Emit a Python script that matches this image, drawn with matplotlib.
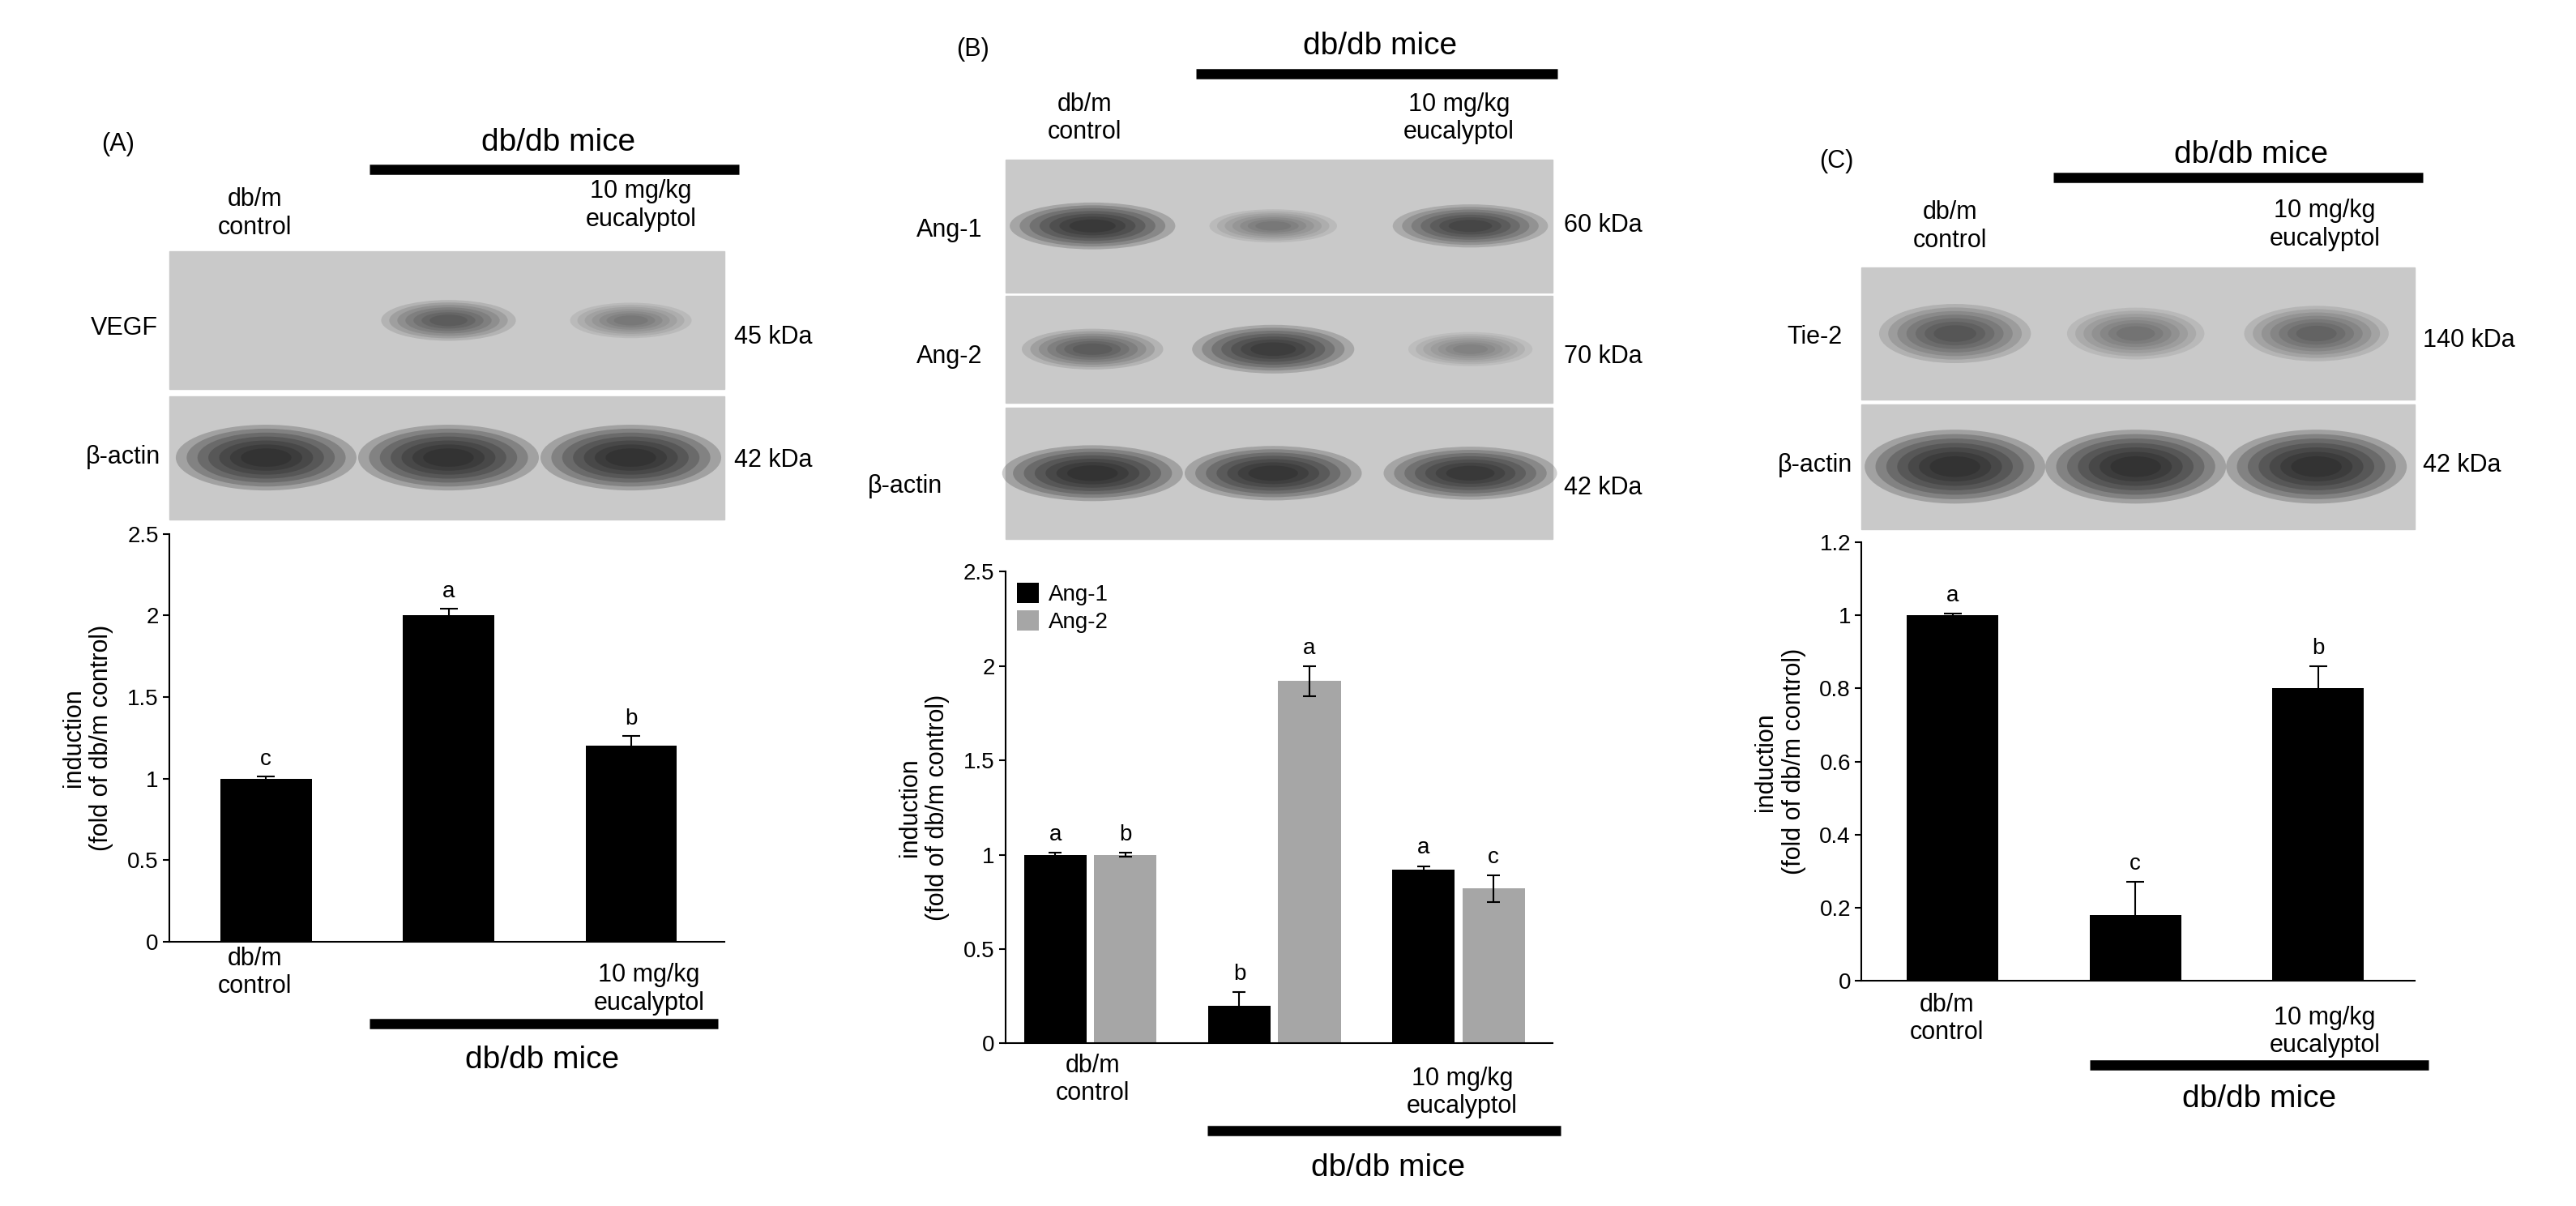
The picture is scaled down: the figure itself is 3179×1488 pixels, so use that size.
import matplotlib
matplotlib.use("Agg")
import matplotlib.pyplot as plt
from matplotlib.patches import Rectangle, Ellipse

plt.rcParams['font.family'] = ['Liberation Sans', 'DejaVu Sans']

# ---- data ----
groups = ["db/m\ncontrol", "", "10 mg/kg\neucalyptol"]
vegf_vals = [1.0, 2.0, 1.2]
vegf_err = [0.01, 0.04, 0.06]
vegf_letters = ["c", "a", "b"]

ang1_vals = [1.0, 0.2, 0.92]
ang1_err = [0.01, 0.07, 0.02]
ang1_letters = ["a", "b", "a"]
ang2_vals = [1.0, 1.92, 0.82]
ang2_err = [0.01, 0.08, 0.07]
ang2_letters = ["b", "a", "c"]

tie2_vals = [1.0, 0.18, 0.80]
tie2_err = [0.005, 0.09, 0.06]
tie2_letters = ["a", "c", "b"]

# band intensities per lane (0..1)
band_A = {"VEGF": [0.0, 0.55, 0.35], "actin": [1.0, 1.0, 1.0]}
band_B = {"Ang-1": [0.9, 0.35, 0.75], "Ang-2": [0.55, 0.85, 0.3], "actin": [1.0, 0.95, 0.9]}
band_C = {"Tie-2": [0.6, 0.4, 0.5], "actin": [1.0, 1.0, 1.0]}

W, H = 1568, 734
fig = plt.figure(figsize=(31.79, 14.88), dpi=100)
ov = fig.add_axes([0, 0, 1, 1])
ov.set_xlim(0, W); ov.set_ylim(H, 0); ov.axis('off')

FS = 22
BIG = 28

def txt(x, y, s, fs=FS, ha='center', va='center'):
    ov.text(x, y, s, fontsize=fs, ha=ha, va=va)

def hbar(x0, x1, y):
    ov.plot([x0, x1], [y, y], color='black', lw=9, solid_capstyle='butt')

def blot(x0, x1, y0, y1, lanes, ints, bw, bh, bg='#c9c9c9'):
    ov.add_patch(Rectangle((x0, y0), x1 - x0, y1 - y0, color=bg, zorder=1))
    yc = (y0 + y1) / 2
    for lx, it in zip(lanes, ints):
        if it <= 0:
            continue
        for i in range(7):
            s = 1 - i * 0.12
            ov.add_patch(Ellipse((lx, yc), bw * s * (0.6 + 0.4 * it), bh * s * (0.5 + 0.5 * it),
                                 color='#151515', alpha=0.22 * it, lw=0, zorder=2))

def barax(x0, x1, ytop, ybot, ymax, step, xl):
    ax = fig.add_axes([x0 / W, 1 - ybot / H, (x1 - x0) / W, (ybot - ytop) / H])
    ax.patch.set_alpha(0)
    ax.set_ylim(0, ymax); ax.set_xlim(*xl)
    ax.spines['top'].set_visible(False); ax.spines['right'].set_visible(False)
    ax.spines['left'].set_linewidth(1.5); ax.spines['bottom'].set_linewidth(1.5)
    ax.set_xticks([])
    import numpy as np
    ticks = np.round(np.arange(0, ymax + 1e-9, step), 2)
    ax.set_yticks(ticks)
    ax.set_yticklabels([("%g" % t) for t in ticks], fontsize=20)
    ax.tick_params(axis='y', length=6, width=1.5)
    return ax

ylab = "induction\n(fold of db/m control)"
x = [0, 1, 2]

# ---------------- Panel A ----------------
txt(72, 88, "(A)")
hbar(225, 450, 103); txt(340, 87, "db/db mice", BIG)
txt(155, 130, "db/m\ncontrol"); txt(390, 125, "10 mg/kg\neucalyptol")
lanesA = [162, 273, 384]
blot(103, 441, 153, 237, lanesA, band_A["VEGF"], 100, 32)
blot(103, 441, 241, 316, lanesA, band_A["actin"], 110, 40)
txt(55, 200, "VEGF", ha='left'); txt(52, 278, "β-actin", ha='left')
txt(447, 205, "45 kDa", ha='left'); txt(447, 280, "42 kDa", ha='left')
axA = barax(103, 441, 325, 573, 2.5, 0.5, (-0.53, 2.51))
axA.bar(x, vegf_vals, 0.5, yerr=vegf_err, color='black', capsize=8,
        error_kw=dict(lw=1.5, capthick=1.5))
for xi, v, e, l in zip(x, vegf_vals, vegf_err, vegf_letters):
    axA.text(xi, v + e + 0.04, l, ha='center', va='bottom', fontsize=20)
axA.set_ylabel(ylab, fontsize=FS, labelpad=12)
txt(155, 592, "db/m\ncontrol"); txt(395, 602, "10 mg/kg\neucalyptol")
hbar(225, 437, 623); txt(330, 645, "db/db mice", BIG)

# ---------------- Panel B ----------------
txt(592, 30, "(B)")
hbar(728, 948, 45); txt(840, 28, "db/db mice", BIG)
txt(660, 72, "db/m\ncontrol"); txt(888, 72, "10 mg/kg\neucalyptol")
lanesB = [665, 775, 895]
blot(612, 945, 97, 178, lanesB, band_B["Ang-1"], 105, 30)
blot(612, 945, 180, 245, lanesB, band_B["Ang-2"], 105, 32)
blot(612, 945, 248, 328, lanesB, band_B["actin"], 110, 34)
txt(558, 140, "Ang-1", ha='left'); txt(558, 217, "Ang-2", ha='left'); txt(528, 296, "β-actin", ha='left')
txt(952, 137, "60 kDa", ha='left'); txt(952, 217, "70 kDa", ha='left'); txt(952, 297, "42 kDa", ha='left')
axB = barax(612, 945, 348, 635, 2.5, 0.5, (-0.46, 2.51))
off = 0.19; bw = 0.34
b1 = axB.bar([i - off for i in x], ang1_vals, bw, yerr=ang1_err, color='black', capsize=6,
             error_kw=dict(lw=1.5, capthick=1.5), label='Ang-1')
b2 = axB.bar([i + off for i in x], ang2_vals, bw, yerr=ang2_err, color='#a6a6a6', capsize=6,
             error_kw=dict(lw=1.5, capthick=1.5), label='Ang-2')
for xi, v, e, l in zip(x, ang1_vals, ang1_err, ang1_letters):
    axB.text(xi - off, v + e + 0.04, l, ha='center', va='bottom', fontsize=20)
for xi, v, e, l in zip(x, ang2_vals, ang2_err, ang2_letters):
    axB.text(xi + off, v + e + 0.04, l, ha='center', va='bottom', fontsize=20)
axB.legend(loc='upper left', fontsize=20, frameon=False, handlelength=1.0, handleheight=1.0,
           borderaxespad=0.1, labelspacing=0.2, handletextpad=0.4)
axB.set_ylabel(ylab, fontsize=FS, labelpad=12)
txt(665, 657, "db/m\ncontrol"); txt(890, 665, "10 mg/kg\neucalyptol")
hbar(735, 950, 688); txt(845, 711, "db/db mice", BIG)

# ---------------- Panel C ----------------
txt(1118, 98, "(C)")
hbar(1250, 1475, 108); txt(1370, 94, "db/db mice", BIG)
txt(1187, 138, "db/m\ncontrol"); txt(1415, 137, "10 mg/kg\neucalyptol")
lanesC = [1190, 1300, 1410]
blot(1133, 1470, 163, 243, lanesC, band_C["Tie-2"], 110, 45)
blot(1133, 1470, 246, 322, lanesC, band_C["actin"], 110, 45)
txt(1088, 205, "Tie-2", ha='left'); txt(1082, 283, "β-actin", ha='left')
txt(1475, 207, "140 kDa", ha='left'); txt(1475, 283, "42 kDa", ha='left')
axC = barax(1133, 1470, 330, 597, 1.2, 0.2, (-0.5, 2.53))
axC.bar(x, tie2_vals, 0.5, yerr=tie2_err, color='black', capsize=8,
        error_kw=dict(lw=1.5, capthick=1.5))
for xi, v, e, l in zip(x, tie2_vals, tie2_err, tie2_letters):
    axC.text(xi, v + e + 0.02, l, ha='center', va='bottom', fontsize=20)
axC.set_ylabel(ylab, fontsize=FS, labelpad=12)
txt(1185, 620, "db/m\ncontrol"); txt(1415, 628, "10 mg/kg\neucalyptol")
hbar(1272, 1478, 648); txt(1375, 669, "db/db mice", BIG)

fig.savefig("out.png", dpi=100, facecolor='white')
